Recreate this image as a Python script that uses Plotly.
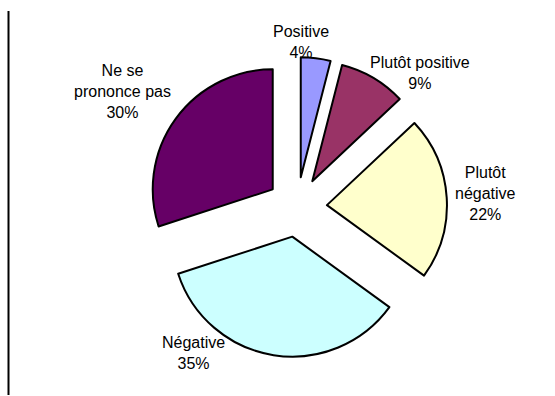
import plotly.graph_objects as go

labels = ["Positive", "Plutôt positive", "Plutôt négative", "Négative", "Ne se prononce pas"]
label_lines = ["Positive", "Plutôt positive", "Plutôt<br>négative", "Négative", "Ne se<br>prononce pas"]
values = [4, 9, 22, 35, 30]
colors = ["#9999FF", "#993366", "#FFFFCC", "#CCFFFF", "#660066"]

W, H = 555, 396
cx, cy, half = 297, 207, 150

fig = go.Figure(go.Pie(
    labels=labels,
    values=values,
    sort=False,
    direction="clockwise",
    rotation=0,
    pull=[0.25] * len(values),
    marker=dict(colors=colors, line=dict(color="black", width=2)),
    textinfo="none",
    hoverinfo="label+percent",
    showlegend=False,
    domain=dict(x=[(cx - half) / W, (cx + half) / W],
                y=[1 - (cy + half) / H, 1 - (cy - half) / H]),
))

# label positions (pixel centres)
label_pos = [(301, 42), (420, 73), (485, 194), (193, 353), (122, 92)]
total = sum(values)
for txt, v, (px, py) in zip(label_lines, values, label_pos):
    fig.add_annotation(
        x=px / W, y=1 - py / H, xref="paper", yref="paper",
        text=f"{txt}<br>{round(100 * v / total)}%",
        showarrow=False, xanchor="center", yanchor="middle",
        font=dict(family="Liberation Sans, Arial, sans-serif", size=16, color="black"),
        align="center",
    )

fig.add_shape(type="line", xref="paper", yref="paper",
              x0=8.5 / W, x1=8.5 / W, y0=1 - 11 / H, y1=1 - 395 / H,
              line=dict(color="black", width=2))

fig.update_layout(
    width=W, height=H,
    margin=dict(l=0, r=0, t=0, b=0),
    paper_bgcolor="white", plot_bgcolor="white",
)

fig.write_html("out.html")
